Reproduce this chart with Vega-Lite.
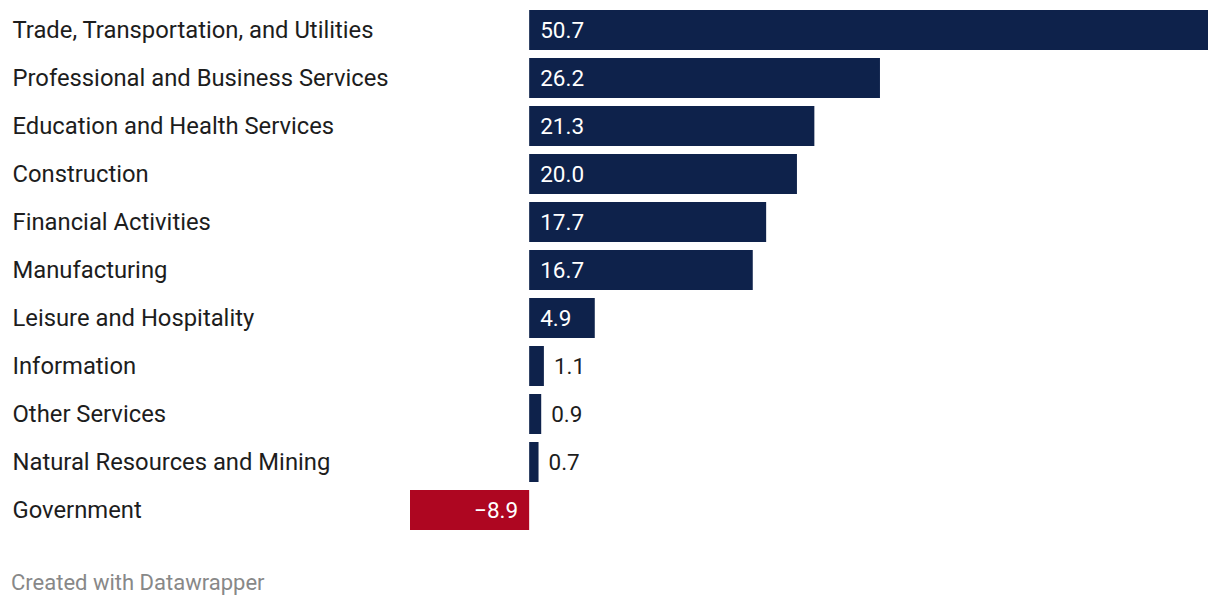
{
  "$schema": "https://vega.github.io/schema/vega-lite/v6.json",
  "width": 798,
  "height": 528,
  "autosize": {"type": "none"},
  "padding": {"left": 410, "top": 6, "right": 12, "bottom": 72},
  "background": "white",
  "config": {"view": {"stroke": null}, "font": "Roboto"},
  "title": {
    "text": "Created with Datawrapper",
    "orient": "bottom",
    "anchor": "start",
    "frame": "group",
    "dx": -399,
    "offset": 39,
    "font": "Roboto",
    "fontSize": 22,
    "fontWeight": "normal",
    "color": "#888888"
  },
  "data": {
    "values": [
      {"sector": "Trade, Transportation, and Utilities", "value": 50.7},
      {"sector": "Professional and Business Services", "value": 26.2},
      {"sector": "Education and Health Services", "value": 21.3},
      {"sector": "Construction", "value": 20.0},
      {"sector": "Financial Activities", "value": 17.7},
      {"sector": "Manufacturing", "value": 16.7},
      {"sector": "Leisure and Hospitality", "value": 4.9},
      {"sector": "Information", "value": 1.1},
      {"sector": "Other Services", "value": 0.9},
      {"sector": "Natural Resources and Mining", "value": 0.7},
      {"sector": "Government", "value": -8.9}
    ]
  },
  "encoding": {
    "y": {
      "field": "sector",
      "type": "nominal",
      "sort": null,
      "scale": {"paddingInner": 0.1667, "paddingOuter": 0.0833},
      "axis": {
        "title": null,
        "domain": false,
        "ticks": false,
        "labelAlign": "left",
        "labelPadding": 398,
        "labelLimit": 500,
        "labelFont": "Roboto",
        "labelFontSize": 23.8,
        "labelColor": "#1d1d1d",
        "labelOffset": 1
      }
    }
  },
  "layer": [
    {
      "mark": {"type": "bar"},
      "encoding": {
        "x": {
          "field": "value",
          "type": "quantitative",
          "scale": {"domain": [-8.9, 50.7], "nice": false, "zero": false},
          "axis": null
        },
        "color": {
          "condition": {"test": "datum.value < 0", "value": "#ae0621"},
          "value": "#0e224b"
        }
      }
    },
    {
      "transform": [{"filter": "datum.value >= 4"}],
      "mark": {"type": "text", "align": "left", "baseline": "middle", "dx": 11, "dy": 1, "font": "Roboto", "fontSize": 22.5, "color": "white"},
      "encoding": {
        "x": {"datum": 0, "type": "quantitative"},
        "text": {"field": "value", "type": "quantitative", "format": ".1f"}
      }
    },
    {
      "transform": [{"filter": "datum.value >= 0 && datum.value < 4"}],
      "mark": {"type": "text", "align": "left", "baseline": "middle", "dx": 10, "dy": 1, "font": "Roboto", "fontSize": 22.5, "color": "#1d1d1d"},
      "encoding": {
        "x": {"field": "value", "type": "quantitative"},
        "text": {"field": "value", "type": "quantitative", "format": ".1f"}
      }
    },
    {
      "transform": [{"filter": "datum.value < 0"}],
      "mark": {"type": "text", "align": "right", "baseline": "middle", "dx": -11, "dy": 1, "font": "Roboto", "fontSize": 22.5, "color": "white"},
      "encoding": {
        "x": {"datum": 0, "type": "quantitative"},
        "text": {"field": "value", "type": "quantitative", "format": ".1f"}
      }
    },
    {
      "mark": {"type": "rule", "color": "#1d1d1d", "strokeWidth": 2},
      "encoding": {"x": {"datum": 0, "type": "quantitative"}}
    }
  ]
}
